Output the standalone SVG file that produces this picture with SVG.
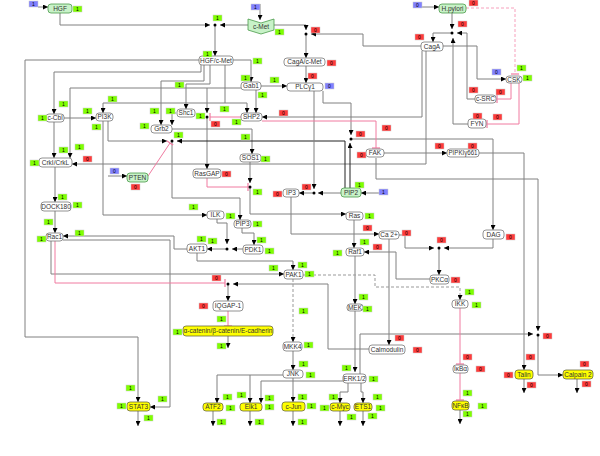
<svg xmlns="http://www.w3.org/2000/svg" width="600" height="456" viewBox="0 0 600 456">
<style>
.n rect,.n polygon{fill:#fff;stroke:#777;stroke-width:0.8}
.n text{font-family:"Liberation Sans",Arial,sans-serif;font-size:6.5px;fill:#333;text-anchor:middle}
.gr rect,.gr polygon{fill:#c8f2c8;stroke:#4a9a4a}
.yl rect{fill:#ffff00;stroke:#6a6a40}
.c path{fill:none;stroke:#808080;stroke-width:1}
.c path.k{stroke:#222}
.c path.p{stroke:#f07aa0}
.c path.d{stroke:#999;stroke-dasharray:3 2}
.c path.pd{stroke:#f7a0bc;stroke-dasharray:3 2}
.c circle{fill:#000}
.s rect{stroke:#ccc;stroke-width:0.5}
.s .G{fill:#7fff00}.s .R{fill:#ff3b3b}.s .B{fill:#8080ff}
.s text{font-family:"Liberation Sans",Arial,sans-serif;font-size:5px;fill:#000;text-anchor:middle}
</style>
<defs>
<marker id="a" viewBox="0 0 6 6" refX="6" refY="3" markerWidth="5" markerHeight="5" orient="auto" markerUnits="userSpaceOnUse"><path d="M0,0L6,3L0,6z" fill="#000"/></marker>
<marker id="b" viewBox="0 0 4 8" refX="3" refY="4" markerWidth="4" markerHeight="8" orient="auto" markerUnits="userSpaceOnUse"><path d="M3,0V8" stroke="#f07aa0" stroke-width="1.2"/></marker>
</defs>
<rect width="600" height="456" fill="#fff"/>
<g id="connectors" class="c">
<g marker-end="url(#a)">
<path d="M38,7H48"/>
<path d="M60,13V25H210"/>
<path d="M248,25H220"/>
<path d="M215,25V56"/>
<path d="M260,4V20"/>
<path d="M274,25H306V30"/>
<path d="M421,46H363V34H311"/>
<path d="M306,34V58"/>
<path d="M306,66V83"/>
<path d="M422,7H439"/>
<path d="M452,13V29"/>
<path d="M452,33H433V42"/>
<path d="M475,99H467V33H457"/>
<path d="M468,124H453V38"/>
<path d="M443,46H477V79H506"/>
<path d="M422,51V117H262"/>
<path d="M426,51V164H72"/>
<path d="M199,60H25V337H138V402"/>
<path d="M201,65V72H54V114"/>
<path d="M204,65V81H161V125"/>
<path d="M210,65V84H186V109"/>
<path d="M225,65V103H103V113"/>
<path d="M225,103H247V113"/>
<path d="M233,60H251V82"/>
<path d="M241,88H70V158"/>
<path d="M207,88V113"/>
<path d="M207,117V169"/>
<path d="M256,90V113"/>
<path d="M261,86H287"/>
<path d="M176,113H172V125"/>
<path d="M172,129H252V154"/>
<path d="M54,122V158"/>
<path d="M64,118H96"/>
<path d="M108,121V141H167"/>
<path class="k" d="M345,188V141H177"/>
<path d="M172,141V198H240V220"/>
<path d="M103,121V215H207"/>
<path d="M55,167V202"/>
<path d="M55,211V233"/>
<path d="M108,176H127"/>
<path d="M250,162V183"/>
<path d="M250,187V214H346"/>
<path d="M314,91V189"/>
<path d="M341,193H318"/>
<path d="M314,193H299"/>
<path d="M323,91V103H351V135"/>
<path class="k" d="M350,188V143"/>
<path d="M351,139H493V230"/>
<path d="M379,193H361"/>
<path d="M291,197V234H379"/>
<path d="M354,220V248"/>
<path d="M355,256V304"/>
<path d="M355,311V372"/>
<path d="M389,239V345"/>
<path d="M399,235H405V248H434"/>
<path d="M493,239V248H444"/>
<path d="M439,248V275"/>
<path d="M430,279H396V252H364"/>
<path d="M384,153H447"/>
<path d="M479,153H524V370"/>
<path d="M376,158V179H538V331"/>
<path d="M360,374V334H533"/>
<path d="M538,335V375H563"/>
<path d="M524,379V393"/>
<path d="M577,379V393"/>
<path d="M243,249H232"/>
<path d="M217,219V223H227V244"/>
<path d="M227,249H207"/>
<path d="M242,228V233H254V245"/>
<path d="M197,253V261H293V270"/>
<path d="M187,249H174V236H63"/>
<path d="M63,240H170V407H150"/>
<path d="M51,241V274H284"/>
<path d="M369,349H328V284H233"/>
<path d="M228,284V301"/>
<path class="d" d="M303,275H375V287H460V300"/>
<path class="d" d="M293,279V342"/>
<path d="M293,351V370"/>
<path d="M293,378V402"/>
<path d="M283,375H217V403"/>
<path d="M250,375V403"/>
<path d="M343,381H261V403"/>
<path d="M348,383V392H340V403"/>
<path d="M361,383V392H363V403"/>
<path d="M138,411V426"/>
<path d="M213,411V426"/>
<path d="M250,411V426"/>
<path d="M293,411V426"/>
<path d="M340,411V426"/>
<path d="M363,411V426"/>
<path d="M460,410V424"/>
<path d="M228,336V348"/>
</g>
<g marker-end="url(#b)">
<path class="pd" d="M466,8H515V74"/>
<path class="p" d="M511,83V99H497"/>
<path class="p" d="M519,83V124H487"/>
<path class="p" d="M262,121H376V148"/>
<path class="p" d="M241,117H210"/>
<path class="p" d="M148,176L170,143"/>
<path class="p" d="M207,178V187H248"/>
<path class="p" d="M55,241V283H225"/>
<path class="p" d="M228,311V326"/>
<path class="p" d="M460,308V364"/>
<path class="p" d="M460,373V400"/>
</g>
<circle cx="215" cy="25" r="1.5"/><circle cx="306" cy="34" r="1.5"/><circle cx="452" cy="33" r="1.5"/><circle cx="207" cy="117" r="1.5"/><circle cx="172" cy="141" r="1.5"/><circle cx="250" cy="187" r="1.5"/><circle cx="314" cy="193" r="1.5"/><circle cx="351" cy="139" r="1.5"/><circle cx="439" cy="248" r="1.5"/><circle cx="538" cy="335" r="1.5"/><circle cx="227" cy="249" r="1.5"/><circle cx="228" cy="284" r="1.5"/>
</g>
<g id="nodes">
<g id="HGF" class="n gr"><rect x="48" y="4" width="24" height="9" rx="3"/><text x="60" y="10.8">HGF</text></g>
<g id="c-Met" class="n gr"><polygon points="248,19 261,23 274,19 274,30 261,34 248,30"/><text x="261" y="29">c-Met</text></g>
<g id="H.pylori" class="n gr"><rect x="439" y="4" width="27" height="9" rx="3"/><text x="452.5" y="10.8">H.pylori</text></g>
<g id="CagA" class="n"><rect x="421" y="42" width="22" height="9" rx="3"/><text x="432" y="48.8">CagA</text></g>
<g id="CagA-c-Met" class="n"><rect x="284" y="58" width="41" height="8" rx="3"/><text x="304.5" y="64.3">CagA/c-Met</text></g>
<g id="HGF-c-Met" class="n"><rect x="199" y="56" width="34" height="9" rx="3"/><text x="216" y="62.8">HGF/c-Met</text></g>
<g id="Gab1" class="n"><rect x="241" y="82" width="20" height="8" rx="3"/><text x="251" y="88.3">Gab1</text></g>
<g id="PLCg1" class="n"><rect x="287" y="83" width="36" height="8" rx="3"/><text x="305" y="89.3">PLCγ1</text></g>
<g id="Shc1" class="n"><rect x="177" y="109" width="18" height="8" rx="3"/><text x="186" y="115.3">Shc1</text></g>
<g id="SHP2" class="n"><rect x="241" y="113" width="21" height="8" rx="3"/><text x="251.5" y="119.3">SHP2</text></g>
<g id="Grb2" class="n"><rect x="151" y="125" width="21" height="8" rx="3"/><text x="161.5" y="131.3">Grb2</text></g>
<g id="PI3K" class="n"><rect x="96" y="113" width="17" height="8" rx="3"/><text x="104.5" y="119.3">PI3K</text></g>
<g id="c-Cbl" class="n"><rect x="46" y="114" width="18" height="8" rx="3"/><text x="55" y="120.3">c-Cbl</text></g>
<g id="CrkI-CrkL" class="n"><rect x="39" y="158" width="33" height="9" rx="3"/><text x="55.5" y="164.8">CrkI/CrkL</text></g>
<g id="PTEN" class="n gr"><rect x="127" y="173" width="21" height="9" rx="3"/><text x="137.5" y="179.8">PTEN</text></g>
<g id="DOCK180" class="n"><rect x="41" y="202" width="30" height="9" rx="3"/><text x="56" y="208.8">DOCK180</text></g>
<g id="Rac1" class="n"><rect x="46" y="233" width="17" height="8" rx="3"/><text x="54.5" y="239.3">Rac1</text></g>
<g id="SOS1" class="n"><rect x="240" y="154" width="21" height="8" rx="3"/><text x="250.5" y="160.3">SOS1</text></g>
<g id="RasGAP" class="n"><rect x="193" y="169" width="28" height="9" rx="3"/><text x="207" y="175.8">RasGAP</text></g>
<g id="FAK" class="n"><rect x="366" y="149" width="18" height="8" rx="3"/><text x="375" y="155.3">FAK</text></g>
<g id="PIPKIg661" class="n"><rect x="447" y="149" width="32" height="8" rx="3"/><text x="463" y="155.3" textLength="29" lengthAdjust="spacingAndGlyphs">PIPKIγ661</text></g>
<g id="PIP2" class="n gr"><rect x="341" y="188" width="20" height="9" rx="3"/><text x="351" y="194.8">PIP2</text></g>
<g id="IP3" class="n"><rect x="283" y="189" width="16" height="8" rx="3"/><text x="291" y="195.3">IP3</text></g>
<g id="Ras" class="n"><rect x="346" y="212" width="17" height="8" rx="3"/><text x="354.5" y="218.3">Ras</text></g>
<g id="Ca2" class="n"><rect x="379" y="231" width="20" height="8" rx="3"/><text x="389" y="237.3">Ca 2+</text></g>
<g id="Raf1" class="n"><rect x="346" y="248" width="18" height="8" rx="3"/><text x="355" y="254.3">Raf1</text></g>
<g id="DAG" class="n"><rect x="483" y="230" width="21" height="9" rx="3"/><text x="493.5" y="236.8">DAG</text></g>
<g id="PKCa" class="n"><rect x="430" y="275" width="19" height="9" rx="3"/><text x="439.5" y="281.8">PKCα</text></g>
<g id="IKK" class="n"><rect x="452" y="300" width="16" height="8" rx="3"/><text x="460" y="306.3">IKK</text></g>
<g id="IkBa" class="n"><rect x="453" y="365" width="15" height="8" rx="3"/><text x="460.5" y="371.3">IκBα</text></g>
<g id="NFkB" class="n yl"><rect x="452" y="401" width="17" height="9" rx="3"/><text x="460.5" y="407.8">NFκB</text></g>
<g id="Talin" class="n yl"><rect x="515" y="370" width="18" height="9" rx="3"/><text x="524" y="376.8">Talin</text></g>
<g id="Calpain2" class="n yl"><rect x="563" y="370" width="30" height="9" rx="3"/><text x="578" y="376.8">Calpain 2</text></g>
<g id="ILK" class="n"><rect x="207" y="211" width="17" height="8" rx="3"/><text x="215.5" y="217.3">ILK</text></g>
<g id="PIP3" class="n"><rect x="234" y="220" width="17" height="8" rx="3"/><text x="242.5" y="226.3">PIP3</text></g>
<g id="AKT1" class="n"><rect x="187" y="244" width="20" height="9" rx="3"/><text x="197" y="250.8">AKT1</text></g>
<g id="PDK1" class="n"><rect x="243" y="245" width="20" height="9" rx="3"/><text x="253" y="251.8">PDK1</text></g>
<g id="PAK1" class="n"><rect x="284" y="270" width="19" height="9" rx="3"/><text x="293.5" y="276.8">PAK1</text></g>
<g id="IQGAP-1" class="n"><rect x="213" y="301" width="30" height="10" rx="3"/><text x="228" y="308.3">IQGAP-1</text></g>
<g id="catenin" class="n yl"><rect x="183" y="326" width="90" height="10" rx="3"/><text x="228" y="333.3" font-size="5.6">α-catenin/β-catenin/E-cadherin</text></g>
<g id="MKK4" class="n"><rect x="283" y="342" width="19" height="9" rx="3"/><text x="292.5" y="348.8">MKK4</text></g>
<g id="JNK" class="n"><rect x="283" y="370" width="20" height="8" rx="3"/><text x="293" y="376.3">JNK</text></g>
<g id="MEK" class="n"><rect x="347" y="304" width="16" height="7" rx="3"/><text x="355" y="309.8">MEK</text></g>
<g id="Calmodulin" class="n"><rect x="369" y="345" width="36" height="9" rx="3"/><text x="387" y="351.8">Calmodulin</text></g>
<g id="ERK1-2" class="n"><rect x="343" y="374" width="23" height="9" rx="3"/><text x="354.5" y="380.8">ERK1/2</text></g>
<g id="STAT3" class="n yl"><rect x="127" y="402" width="23" height="9" rx="3"/><text x="138.5" y="408.8">STAT3</text></g>
<g id="ATF2" class="n yl"><rect x="203" y="403" width="20" height="8" rx="3"/><text x="213" y="409.3">ATF2</text></g>
<g id="Elk1" class="n yl"><rect x="240" y="403" width="22" height="8" rx="3"/><text x="251" y="409.3">Elk1</text></g>
<g id="c-Jun" class="n yl"><rect x="282" y="402" width="23" height="9" rx="3"/><text x="293.5" y="408.8">c-Jun</text></g>
<g id="c-Myc" class="n yl"><rect x="330" y="403" width="20" height="8" rx="3"/><text x="340" y="409.3">c-Myc</text></g>
<g id="ETS1" class="n yl"><rect x="354" y="403" width="18" height="8" rx="3"/><text x="363" y="409.3">ETS1</text></g>
<g id="CSK" class="n"><rect x="506" y="76" width="16" height="7" rx="3"/><text x="514" y="81.8">CSK</text></g>
<g id="c-SRC" class="n"><rect x="475" y="95" width="21" height="8" rx="3"/><text x="485.5" y="101.3">c-SRC</text></g>
<g id="FYN" class="n"><rect x="468" y="119" width="18" height="9" rx="3"/><text x="477" y="125.8">FYN</text></g>
</g>
<g id="states" class="s">
<g class="B"><rect x="29" y="1" width="9" height="6"/><rect x="251" y="4" width="9" height="6"/><rect x="413" y="2" width="9" height="6"/><rect x="492" y="69" width="9" height="6"/><rect x="325" y="83" width="9" height="6"/><rect x="110" y="168" width="9" height="6"/><rect x="379" y="189" width="9" height="6"/></g>
<text x="33.5" y="6">1</text><text x="255.5" y="9">1</text><text x="417.5" y="7">0</text><text x="496.5" y="74">0</text><text x="329.5" y="88">0</text><text x="114.5" y="173">0</text><text x="383.5" y="194">1</text>
<g class="R"><rect x="311" y="27" width="9" height="6"/><rect x="327" y="60" width="9" height="6"/><rect x="308" y="73" width="9" height="6"/><rect x="279" y="110" width="9" height="6"/><rect x="211" y="121" width="9" height="6"/><rect x="382" y="125" width="9" height="6"/><rect x="356" y="131" width="9" height="6"/><rect x="469" y="0" width="9" height="6"/><rect x="458" y="21" width="9" height="6"/><rect x="415" y="34" width="9" height="6"/><rect x="469" y="87" width="9" height="6"/><rect x="496" y="89" width="9" height="6"/><rect x="473" y="113" width="9" height="6"/><rect x="493" y="114" width="9" height="6"/><rect x="435" y="143" width="9" height="6"/><rect x="468" y="143" width="9" height="6"/><rect x="83" y="156" width="9" height="6"/><rect x="131" y="184" width="9" height="6"/><rect x="357" y="152" width="9" height="6"/><rect x="222" y="171" width="9" height="6"/><rect x="302" y="184" width="9" height="6"/><rect x="273" y="191" width="9" height="6"/><rect x="363" y="225" width="9" height="6"/><rect x="212" y="275" width="9" height="6"/><rect x="373" y="244" width="9" height="6"/><rect x="402" y="230" width="9" height="6"/><rect x="506" y="234" width="9" height="6"/><rect x="437" y="237" width="9" height="6"/><rect x="451" y="277" width="9" height="6"/><rect x="199" y="303" width="9" height="6"/><rect x="395" y="335" width="9" height="6"/><rect x="543" y="333" width="9" height="6"/><rect x="413" y="347" width="9" height="6"/><rect x="463" y="354" width="9" height="6"/><rect x="476" y="366" width="9" height="6"/><rect x="526" y="354" width="9" height="6"/><rect x="504" y="372" width="9" height="6"/><rect x="527" y="382" width="9" height="6"/><rect x="580" y="361" width="9" height="6"/><rect x="582" y="381" width="9" height="6"/></g>
<text x="315.5" y="32">0</text><text x="331.5" y="65">0</text><text x="312.5" y="78">0</text><text x="283.5" y="115">0</text><text x="215.5" y="126">0</text><text x="386.5" y="130">0</text><text x="360.5" y="136">0</text><text x="473.5" y="5">0</text><text x="462.5" y="26">0</text><text x="419.5" y="39">0</text><text x="473.5" y="92">0</text><text x="500.5" y="94">0</text><text x="477.5" y="118">0</text><text x="497.5" y="119">0</text><text x="439.5" y="148">0</text><text x="472.5" y="148">0</text><text x="87.5" y="161">0</text><text x="135.5" y="189">0</text><text x="361.5" y="157">0</text><text x="226.5" y="176">0</text><text x="306.5" y="189">0</text><text x="277.5" y="196">0</text><text x="367.5" y="230">0</text><text x="216.5" y="280">0</text><text x="377.5" y="249">0</text><text x="406.5" y="235">0</text><text x="510.5" y="239">0</text><text x="441.5" y="242">0</text><text x="455.5" y="282">0</text><text x="203.5" y="308">0</text><text x="399.5" y="340">0</text><text x="547.5" y="338">0</text><text x="417.5" y="352">0</text><text x="467.5" y="359">0</text><text x="480.5" y="371">0</text><text x="530.5" y="359">0</text><text x="508.5" y="377">0</text><text x="531.5" y="387">0</text><text x="584.5" y="366">0</text><text x="586.5" y="386">0</text>
<g class="G"><rect x="73" y="6" width="9" height="6"/><rect x="213" y="15" width="9" height="6"/><rect x="275" y="29" width="9" height="6"/><rect x="203" y="51" width="9" height="6"/><rect x="253" y="58" width="9" height="6"/><rect x="241" y="75" width="9" height="6"/><rect x="270" y="77" width="9" height="6"/><rect x="175" y="82" width="9" height="6"/><rect x="258" y="92" width="9" height="6"/><rect x="108" y="96" width="9" height="6"/><rect x="59" y="101" width="9" height="6"/><rect x="220" y="106" width="9" height="6"/><rect x="150" y="108" width="9" height="6"/><rect x="166" y="108" width="9" height="6"/><rect x="83" y="108" width="9" height="6"/><rect x="196" y="113" width="9" height="6"/><rect x="38" y="115" width="9" height="6"/><rect x="232" y="119" width="9" height="6"/><rect x="140" y="123" width="9" height="6"/><rect x="92" y="124" width="9" height="6"/><rect x="174" y="132" width="9" height="6"/><rect x="241" y="134" width="9" height="6"/><rect x="75" y="144" width="9" height="6"/><rect x="59" y="147" width="9" height="6"/><rect x="517" y="65" width="9" height="6"/><rect x="523" y="75" width="9" height="6"/><rect x="30" y="160" width="9" height="6"/><rect x="58" y="194" width="9" height="6"/><rect x="73" y="202" width="9" height="6"/><rect x="44" y="219" width="9" height="6"/><rect x="75" y="230" width="9" height="6"/><rect x="37" y="236" width="9" height="6"/><rect x="189" y="204" width="9" height="6"/><rect x="261" y="156" width="9" height="6"/><rect x="253" y="189" width="9" height="6"/><rect x="355" y="182" width="9" height="6"/><rect x="226" y="213" width="9" height="6"/><rect x="253" y="221" width="9" height="6"/><rect x="365" y="213" width="9" height="6"/><rect x="197" y="236" width="9" height="6"/><rect x="208" y="238" width="9" height="6"/><rect x="257" y="237" width="9" height="6"/><rect x="265" y="248" width="9" height="6"/><rect x="360" y="239" width="9" height="6"/><rect x="333" y="250" width="9" height="6"/><rect x="269" y="265" width="9" height="6"/><rect x="298" y="262" width="9" height="6"/><rect x="305" y="271" width="9" height="6"/><rect x="359" y="294" width="9" height="6"/><rect x="465" y="289" width="9" height="6"/><rect x="472" y="302" width="9" height="6"/><rect x="173" y="329" width="9" height="6"/><rect x="126" y="385" width="9" height="6"/><rect x="158" y="396" width="9" height="6"/><rect x="117" y="403" width="9" height="6"/><rect x="144" y="415" width="9" height="6"/><rect x="217" y="316" width="9" height="6"/><rect x="217" y="343" width="9" height="6"/><rect x="299" y="308" width="9" height="6"/><rect x="363" y="306" width="9" height="6"/><rect x="304" y="342" width="9" height="6"/><rect x="299" y="361" width="9" height="6"/><rect x="306" y="372" width="9" height="6"/><rect x="342" y="365" width="9" height="6"/><rect x="369" y="376" width="9" height="6"/><rect x="223" y="394" width="9" height="6"/><rect x="226" y="405" width="9" height="6"/><rect x="217" y="419" width="9" height="6"/><rect x="237" y="392" width="9" height="6"/><rect x="265" y="395" width="9" height="6"/><rect x="265" y="404" width="9" height="6"/><rect x="255" y="419" width="9" height="6"/><rect x="298" y="394" width="9" height="6"/><rect x="307" y="403" width="9" height="6"/><rect x="298" y="419" width="9" height="6"/><rect x="329" y="394" width="9" height="6"/><rect x="320" y="405" width="9" height="6"/><rect x="347" y="414" width="9" height="6"/><rect x="373" y="394" width="9" height="6"/><rect x="376" y="405" width="9" height="6"/><rect x="368" y="413" width="9" height="6"/><rect x="463" y="390" width="9" height="6"/><rect x="478" y="403" width="9" height="6"/><rect x="463" y="411" width="9" height="6"/></g>
<text x="77.5" y="11">1</text><text x="217.5" y="20">1</text><text x="279.5" y="34">1</text><text x="207.5" y="56">1</text><text x="257.5" y="63">1</text><text x="245.5" y="80">1</text><text x="274.5" y="82">1</text><text x="179.5" y="87">1</text><text x="262.5" y="97">1</text><text x="112.5" y="101">1</text><text x="63.5" y="106">1</text><text x="224.5" y="111">1</text><text x="154.5" y="113">1</text><text x="170.5" y="113">1</text><text x="87.5" y="113">1</text><text x="200.5" y="118">1</text><text x="42.5" y="120">1</text><text x="236.5" y="124">1</text><text x="144.5" y="128">1</text><text x="96.5" y="129">1</text><text x="178.5" y="137">1</text><text x="245.5" y="139">1</text><text x="79.5" y="149">1</text><text x="63.5" y="152">1</text><text x="521.5" y="70">1</text><text x="527.5" y="80">1</text><text x="34.5" y="165">1</text><text x="62.5" y="199">1</text><text x="77.5" y="207">1</text><text x="48.5" y="224">1</text><text x="79.5" y="235">1</text><text x="41.5" y="241">1</text><text x="193.5" y="209">1</text><text x="265.5" y="161">1</text><text x="257.5" y="194">1</text><text x="359.5" y="187">1</text><text x="230.5" y="218">1</text><text x="257.5" y="226">1</text><text x="369.5" y="218">1</text><text x="201.5" y="241">1</text><text x="212.5" y="243">1</text><text x="261.5" y="242">1</text><text x="269.5" y="253">1</text><text x="364.5" y="244">1</text><text x="337.5" y="255">1</text><text x="273.5" y="270">1</text><text x="302.5" y="267">1</text><text x="309.5" y="276">1</text><text x="363.5" y="299">1</text><text x="469.5" y="294">1</text><text x="476.5" y="307">1</text><text x="177.5" y="334">1</text><text x="130.5" y="390">1</text><text x="162.5" y="401">1</text><text x="121.5" y="408">1</text><text x="148.5" y="420">1</text><text x="221.5" y="321">1</text><text x="221.5" y="348">1</text><text x="303.5" y="313">1</text><text x="367.5" y="311">1</text><text x="308.5" y="347">1</text><text x="303.5" y="366">1</text><text x="310.5" y="377">1</text><text x="346.5" y="370">1</text><text x="373.5" y="381">1</text><text x="227.5" y="399">1</text><text x="230.5" y="410">1</text><text x="221.5" y="424">1</text><text x="241.5" y="397">1</text><text x="269.5" y="400">1</text><text x="269.5" y="409">1</text><text x="259.5" y="424">1</text><text x="302.5" y="399">1</text><text x="311.5" y="408">1</text><text x="302.5" y="424">1</text><text x="333.5" y="399">1</text><text x="324.5" y="410">1</text><text x="351.5" y="419">1</text><text x="377.5" y="399">1</text><text x="380.5" y="410">1</text><text x="372.5" y="418">1</text><text x="467.5" y="395">1</text><text x="482.5" y="408">1</text><text x="467.5" y="416">1</text>
</g>
</svg>
